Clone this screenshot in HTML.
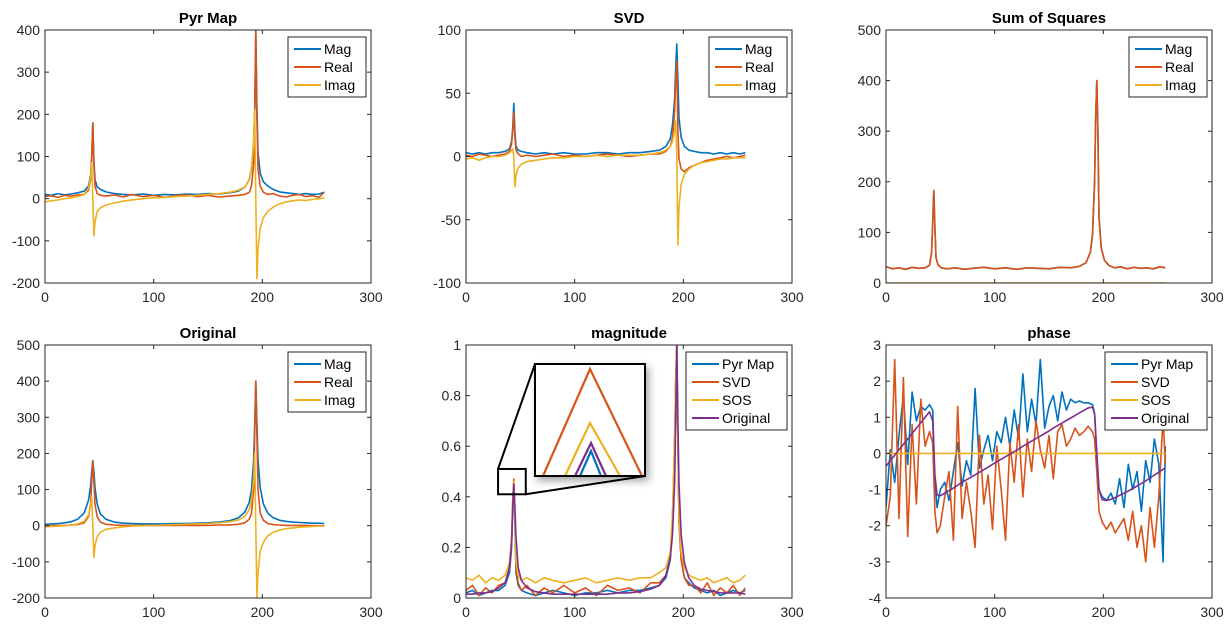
<!DOCTYPE html>
<html><head><meta charset="utf-8">
<style>
html,body{margin:0;padding:0;background:#fff;}
svg{display:block;font-family:"Liberation Sans",Arial,sans-serif;}
</style></head>
<body>
<svg id="fig" width="1230" height="633" viewBox="0 0 1230 633"></svg>
<script>
const xs=[0,6,12,18,24,30,36,40,42,43,44,45,46,48,51,56,64,72,80,90,100,110,120,130,140,150,160,170,178,184,188,190,192,193,194,195,196,198,201,205,210,216,222,228,234,240,246,252,257];
const xsP=[0,4,8,12,16,20,24,28,32,36,40,43,45,47,50,54,58,62,66,70,74,78,82,86,90,94,98,102,106,110,114,118,122,126,130,134,138,142,146,150,154,158,162,166,170,174,178,182,186,190,192,194,196,199,203,207,211,215,219,223,227,231,235,239,243,247,251,255,257];
const xTicks=[0,100,200,300];

const pyrMag=[10,8,12,9,11,14,18,30,55,100,180,90,45,28,22,16,12,10,9,11,8,10,9,11,10,12,11,14,18,28,45,70,130,210,400,220,110,60,40,30,22,16,14,12,10,12,10,11,15];
const pyrReal=[5,7,3,8,6,9,10,20,45,90,180,80,30,12,8,6,9,4,10,5,8,3,7,9,5,8,4,6,8,10,15,30,80,180,400,190,70,30,15,10,12,6,4,8,10,5,7,3,15];
const pyrImag=[-8,-5,-3,0,2,5,10,25,50,85,0,-88,-55,-30,-22,-15,-10,-6,-3,0,2,3,5,6,8,10,12,15,20,28,45,70,130,210,0,-190,-120,-70,-45,-30,-20,-12,-8,-5,-3,-4,-2,0,2];
const pyrTicks=[-200,-100,0,100,200,300,400];

const svdMag=[3,2,3,2,3,3,4,6,12,22,42,20,8,5,4,3,2,3,2,3,2,2,3,3,2,3,3,4,5,8,14,25,45,70,89,60,30,15,8,5,4,3,3,2,3,2,3,2,3];
const svdReal=[1,0,2,1,0,1,2,4,10,20,35,15,5,2,0,1,0,1,2,0,1,0,1,2,1,0,1,2,2,4,8,15,35,60,75,20,-2,-10,-12,-9,-7,-5,-3,-2,-1,0,-1,0,1];
const svdImag=[-2,-1,-3,-1,0,0,1,3,5,6,0,-24,-15,-9,-6,-4,-3,-2,-1,-1,0,0,1,0,1,1,1,2,3,5,8,12,20,28,0,-70,-40,-22,-14,-10,-7,-5,-4,-3,-2,-2,-1,-1,-1];
const svdTicks=[-100,-50,0,50,100];

const sosMag=[32,28,30,27,31,29,30,35,60,120,183,110,50,35,30,28,30,27,29,31,28,30,27,30,29,28,31,30,33,40,60,95,200,330,400,300,130,70,45,35,30,32,28,31,29,30,28,32,30];
const sosReal=[32,28,30,27,31,29,30,35,60,120,183,110,50,35,30,28,30,27,29,31,28,30,27,30,29,28,31,30,33,40,60,95,200,330,400,300,130,70,45,35,30,32,28,31,29,30,28,32,30];
const sosImag=[0,0,0,0,0,0,0,0,0,0,0,0,0,0,0,0,0,0,0,0,0,0,0,0,0,0,0,0,0,0,0,0,0,0,0,0,0,0,0,0,0,0,0,0,0,0,0,0,0];
const sosTicks=[0,100,200,300,400,500];

const origMag=[4,5,6,8,11,18,35,70,110,150,180,150,105,60,32,18,10,7,6,5,5,5,6,6,7,8,10,14,22,38,65,100,180,280,400,285,185,105,60,35,22,15,12,10,9,8,7,7,6];
const origReal=[0,0,1,1,2,3,8,25,60,120,180,120,60,25,10,4,2,1,1,1,1,1,1,1,1,1,2,2,4,8,18,35,100,250,400,250,100,35,15,6,3,2,1,1,1,1,0,0,0];
const origImag=[-3,-2,-1,0,2,5,12,30,55,80,0,-88,-55,-30,-18,-10,-6,-3,-1,0,1,2,3,4,5,6,8,11,16,26,45,70,130,200,0,-200,-130,-70,-45,-28,-18,-12,-8,-6,-4,-3,-2,-1,-1];
const origTicks=[-200,-100,0,100,200,300,400,500];

const nPyr=[0.02,0.03,0.01,0.02,0.03,0.03,0.05,0.1,0.2,0.35,0.45,0.3,0.1,0.05,0.03,0.02,0.01,0.02,0.03,0.02,0.01,0.02,0.02,0.03,0.02,0.03,0.03,0.04,0.05,0.08,0.15,0.3,0.6,0.85,1,0.6,0.3,0.15,0.08,0.06,0.04,0.03,0.02,0.03,0.01,0.02,0.03,0.02,0.03];
const nSvd=[0.03,0.05,0.01,0.04,0.02,0.05,0.06,0.12,0.22,0.38,0.47,0.32,0.12,0.06,0.03,0.05,0.01,0.04,0.02,0.05,0.02,0.04,0.01,0.05,0.03,0.04,0.02,0.06,0.06,0.09,0.16,0.32,0.62,0.86,1,0.62,0.3,0.15,0.08,0.05,0.05,0.02,0.06,0.01,0.04,0.02,0.05,0.01,0.04];
const nSos=[0.08,0.07,0.09,0.06,0.08,0.07,0.09,0.14,0.24,0.39,0.46,0.33,0.14,0.09,0.07,0.08,0.06,0.08,0.07,0.06,0.07,0.08,0.06,0.07,0.08,0.07,0.08,0.08,0.1,0.12,0.18,0.33,0.62,0.86,1,0.62,0.32,0.18,0.12,0.09,0.08,0.07,0.08,0.06,0.07,0.08,0.06,0.07,0.09];
const nOrig=[0.015,0.015,0.02,0.02,0.025,0.04,0.06,0.12,0.22,0.36,0.45,0.36,0.24,0.12,0.07,0.04,0.025,0.02,0.015,0.015,0.015,0.015,0.015,0.015,0.02,0.02,0.025,0.035,0.05,0.09,0.16,0.25,0.45,0.7,1,0.7,0.45,0.25,0.14,0.08,0.05,0.035,0.03,0.025,0.02,0.02,0.02,0.02,0.015];
const magTicks=[0,0.2,0.4,0.6,0.8,1];

const phOrig=[-0.35,-0.2,-0.05,0.1,0.25,0.4,0.55,0.7,0.85,1.0,1.15,0.9,-0.6,-1.15,-1.17,-1.1,-1.03,-0.96,-0.88,-0.8,-0.73,-0.66,-0.59,-0.52,-0.45,-0.38,-0.3,-0.23,-0.16,-0.09,-0.02,0.05,0.12,0.2,0.27,0.34,0.41,0.48,0.55,0.62,0.7,0.77,0.84,0.91,0.98,1.05,1.12,1.19,1.26,1.28,1.1,0,-1.0,-1.28,-1.3,-1.27,-1.22,-1.16,-1.1,-1.04,-0.97,-0.9,-0.83,-0.76,-0.68,-0.6,-0.52,-0.44,-0.4];
const phPyr=[-1.5,0.1,-0.8,0.5,1.6,-0.3,1.7,0.9,1.3,1.2,1.35,1.2,-0.8,-1.5,-1.0,-0.8,-1.3,-0.5,0.3,-0.9,-0.2,-0.6,1.8,-0.4,0.1,0.5,-0.2,0.6,0.3,1.0,0.2,1.2,0.4,2.2,0.6,1.5,0.8,2.6,0.7,1.3,1.6,0.9,1.7,1.2,1.5,1.4,1.45,1.4,1.4,1.35,1.1,0,-1.0,-1.2,-1.3,-1.1,-1.4,-0.7,-1.5,-0.3,-1.0,-0.5,-1.6,-0.2,-0.8,0.4,-0.3,-3.0,0.2];
const phSvd=[-2.0,-1.2,2.6,-1.8,2.1,-2.3,0.8,-1.4,1.5,0.2,0.6,0.3,-1.6,-2.2,-2.0,-1.2,-0.5,-2.4,1.3,-1.8,-0.8,-1.6,-2.6,0.5,-1.4,-0.6,-2.1,0.2,-1.0,-2.4,0.3,-0.8,0.8,-1.2,0.4,-0.5,0.9,0.1,-0.4,0.5,-0.7,0.6,0.8,0.2,0.4,0.7,0.5,0.6,0.75,0.6,0.4,-0.5,-1.6,-1.9,-2.1,-1.9,-2.2,-2.0,-1.8,-2.4,-1.6,-2.6,-2.0,-3.0,-1.5,-2.6,-1.2,1.0,-0.3];
const phSos=[0,0,0,0,0,0,0,0,0,0,0,0,0,0,0,0,0,0,0,0,0,0,0,0,0,0,0,0,0,0,0,0,0,0,0,0,0,0,0,0,0,0,0,0,0,0,0,0,0,0,0,0,0,0,0,0,0,0,0,0,0,0,0,0,0,0,0,0,0];
const phTicks=[-4,-3,-2,-1,0,1,2,3];

const C={blue:'#0072BD',red:'#D95319',yel:'#EDB120',pur:'#7E2F8E'};
const NS='http://www.w3.org/2000/svg';
const svg=document.getElementById('fig');
function mk(tag,attrs,parent){const e=document.createElementNS(NS,tag);for(const k in attrs)e.setAttribute(k,attrs[k]);(parent||svg).appendChild(e);return e;}

function plot(o){
  const g=mk('g',{});
  
  
  const L=o.x,R=o.x+326,T=o.y,B=o.y+253;
  const yMin=o.yt[0],yMax=o.yt[o.yt.length-1];
  const sx=v=>L+(v-0)/(300-0)*(R-L);
  const sy=v=>B-(v-yMin)/(yMax-yMin)*(B-T);
  const t=mk('text',{x:(L+R)/2,y:T-7,'text-anchor':'middle','font-size':15,'font-weight':'bold',fill:'#000'},g);
  t.textContent=o.title;
  
  
  const clip='c'+o.name;
  const cp=mk('clipPath',{id:clip},g);mk('rect',{x:L,y:T,width:R-L,height:B-T},cp);
  const lines=mk('g',{'clip-path':'url(#'+clip+')'},g);
  o.series.forEach(s=>{
    const X=s.x||xs;
    let d='';X.forEach((xv,i)=>{d+=(i?'L':'M')+sx(xv).toFixed(1)+','+sy(s.v[i]).toFixed(1);});
    const p=mk('path',{d:d,fill:'none',stroke:s.c,'stroke-width':1.6,'stroke-linejoin':'round'},lines);
    
    
  });
  const box=mk('rect',{x:L,y:T,width:R-L,height:B-T,fill:'none',stroke:'#262626','stroke-width':1},g);
  
  
  xTicks.forEach(v=>{
    const X=sx(v);
    mk('line',{x1:X,y1:B,x2:X,y2:B-4,stroke:'#262626'},g);
    mk('line',{x1:X,y1:T,x2:X,y2:T+4,stroke:'#262626'},g);
    const tx=mk('text',{x:X,y:B+19,'text-anchor':'middle','font-size':14,fill:'#262626'},g);
    tx.textContent=v;
    
    
  });
  o.yt.forEach(v=>{
    const Y=sy(v);
    mk('line',{x1:L,y1:Y,x2:L+4,y2:Y,stroke:'#262626'},g);
    mk('line',{x1:R,y1:Y,x2:R-4,y2:Y,stroke:'#262626'},g);
    const ty=mk('text',{x:L-5,y:Y+5,'text-anchor':'end','font-size':14,fill:'#262626'},g);
    ty.textContent=v;
    
    
  });
  const lw=o.lw,lh=o.series.length*18+6,lx=R-5-lw,ly=T+7;
  const lg=mk('g',{},g);
  
  
  mk('rect',{x:lx,y:ly,width:lw,height:lh,fill:'#fff',stroke:'#262626','stroke-width':1},lg);
  o.series.forEach((s,i)=>{
    const yy=ly+12+i*18;
    const e=mk('g',{},lg);
    
    
    mk('line',{x1:lx+6,y1:yy,x2:lx+33,y2:yy,stroke:s.c,'stroke-width':2},e);
    const lt=mk('text',{x:lx+36,y:yy+5,'font-size':14,fill:'#000'},e);
    lt.textContent=s.n;
  });
  return {sx,sy,g};
}
const c1=45,c2=466,c3=886,r1=30,r2=345;
plot({name:'pyr-map-chart',title:'Pyr Map',x:c1,y:r1,yt:pyrTicks,lw:78,series:[{n:'Mag',c:C.blue,v:pyrMag},{n:'Real',c:C.red,v:pyrReal},{n:'Imag',c:C.yel,v:pyrImag}]});
plot({name:'svd-chart',title:'SVD',x:c2,y:r1,yt:svdTicks,lw:78,series:[{n:'Mag',c:C.blue,v:svdMag},{n:'Real',c:C.red,v:svdReal},{n:'Imag',c:C.yel,v:svdImag}]});
plot({name:'sos-chart',title:'Sum of Squares',x:c3,y:r1,yt:sosTicks,lw:78,series:[{n:'Mag',c:C.blue,v:sosMag},{n:'Real',c:C.red,v:sosReal},{n:'Imag',c:C.yel,v:sosImag}]});
plot({name:'original-chart',title:'Original',x:c1,y:r2,yt:origTicks,lw:78,series:[{n:'Mag',c:C.blue,v:origMag},{n:'Real',c:C.red,v:origReal},{n:'Imag',c:C.yel,v:origImag}]});
const m=plot({name:'magnitude-chart',title:'magnitude',x:c2,y:r2,yt:magTicks,lw:101,series:[{n:'Pyr Map',c:C.blue,v:nPyr},{n:'SVD',c:C.red,v:nSvd},{n:'SOS',c:C.yel,v:nSos},{n:'Original',c:C.pur,v:nOrig}]});
plot({name:'phase-chart',title:'phase',x:c3,y:r2,yt:phTicks,lw:102,series:[{n:'Pyr Map',c:C.blue,v:phPyr,x:xsP},{n:'SVD',c:C.red,v:phSvd,x:xsP},{n:'SOS',c:C.yel,v:phSos,x:xsP},{n:'Original',c:C.pur,v:phOrig,x:xsP}]});

const ig=mk('g',{},m.g);


const bx1=m.sx(29.5),bx2=m.sx(55),by1=m.sy(0.51),by2=m.sy(0.41);
const IX1=535,IY1=364,IX2=645,IY2=476;
const defs=mk('defs',{},ig);
const f=mk('filter',{id:'sh',x:'-20%',y:'-20%',width:'150%',height:'150%'},defs);
mk('feDropShadow',{dx:3,dy:4,stdDeviation:4,'flood-color':'#000','flood-opacity':0.35},f);
mk('line',{x1:bx1,y1:by1,x2:IX1,y2:IY1,stroke:'#000','stroke-width':2},ig);
mk('line',{x1:bx2,y1:by2,x2:IX2,y2:IY2,stroke:'#000','stroke-width':2},ig);
const sb=mk('rect',{x:bx1,y:by1,width:bx2-bx1,height:by2-by1,fill:'none',stroke:'#000','stroke-width':2},ig);


mk('rect',{x:IX1,y:IY1,width:IX2-IX1,height:IY2-IY1,fill:'#fff',stroke:'#000','stroke-width':2,filter:'url(#sh)'},ig);
[[C.red,543,590,369,642],[C.yel,565,590,423,620],[C.pur,575,591,443,606],[C.blue,580,591,451,601]].forEach(a=>{
  mk('polyline',{points:a[1]+','+IY2+' '+a[2]+','+a[3]+' '+a[4]+','+IY2,fill:'none',stroke:a[0],'stroke-width':2.2},ig);
});
mk('rect',{x:IX1,y:IY1,width:IX2-IX1,height:IY2-IY1,fill:'none',stroke:'#000','stroke-width':2},ig);
</script>
</body></html>
